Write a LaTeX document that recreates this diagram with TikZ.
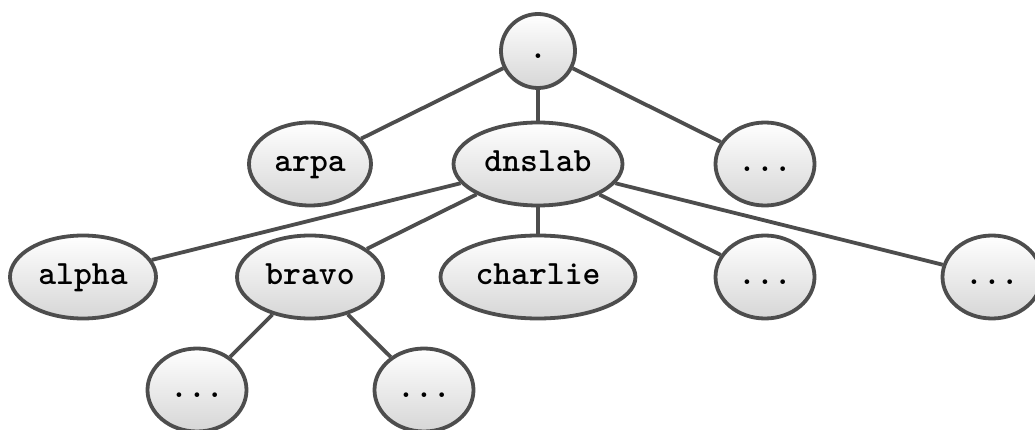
\documentclass[tikz,border=0pt]{standalone}
\usepackage{fontspec}
\setmonofont{Latin Modern Mono Light}
\usetikzlibrary{shapes.geometric}
\definecolor{edgegray}{HTML}{4D4D4D}
\definecolor{fillbot}{HTML}{D6D6D6}
\begin{document}
\begin{tikzpicture}[x=1pt,y=-1pt,
  nd/.style={ellipse, draw=edgegray, line width=3.8pt, top color=white, bottom color=fillbot,
    inner sep=0pt, minimum height=83pt, text height=25pt, text depth=10pt,
    font=\fontsize{34}{40}\selectfont\ttfamily\bfseries},
  rootnd/.style={nd, circle, minimum size=74pt},
  ln/.style={draw=edgegray, line width=3.8pt}]
\useasboundingbox (0,0) rectangle (1035,430);
% nodes
\node[rootnd] (root) at (538,51) {.};
\node[nd, minimum width=122pt] (arpa) at (310,164) {arpa};
\node[nd, minimum width=169pt] (dnslab) at (538,164) {dnslab};
\node[nd, minimum width=99pt] (r1) at (765,164) {...};
\node[nd, minimum width=146pt] (alpha) at (83,277) {alpha};
\node[nd, minimum width=146pt] (bravo) at (310,277) {bravo};
\node[nd, minimum width=195pt] (charlie) at (538,277) {charlie};
\node[nd, minimum width=99pt] (d4) at (765,277) {...};
\node[nd, minimum width=99pt] (d5) at (992,277) {...};
\node[nd, minimum width=99pt] (b1) at (197,390) {...};
\node[nd, minimum width=99pt] (b2) at (424,390) {...};
% edges
\path[ln] (root) -- (arpa);
\path[ln] (root) -- (dnslab);
\path[ln] (root) -- (r1);
\path[ln] (dnslab) -- (alpha);
\path[ln] (dnslab) -- (bravo);
\path[ln] (dnslab) -- (charlie);
\path[ln] (dnslab) -- (d4);
\path[ln] (dnslab) -- (d5);
\path[ln] (bravo) -- (b1);
\path[ln] (bravo) -- (b2);
\end{tikzpicture}
\end{document}
